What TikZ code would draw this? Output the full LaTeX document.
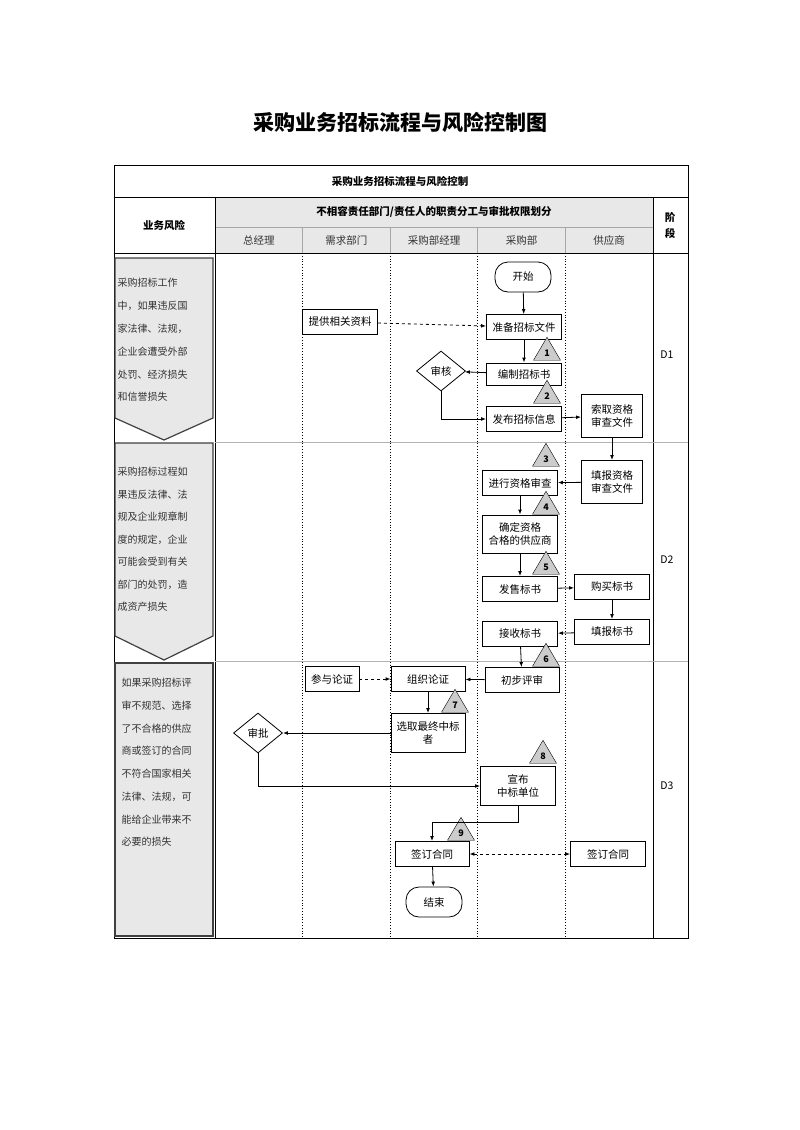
\documentclass[tikz,border=0pt]{standalone}
\usepackage{fontspec}
\setmainfont{Noto Sans CJK SC}
\usetikzlibrary{shapes.geometric,arrows.meta}
\begin{document}
\begin{tikzpicture}[x=1pt,y=-1pt,
  every node/.style={font=\fontsize{10.5}{12.5}\selectfont},
  box/.style={draw,thick,fill=white,align=center,inner sep=1pt,minimum height=25pt},
  term/.style={draw,thick,rounded corners=13pt,fill=white,minimum width=56pt,minimum height=30pt},
  dia/.style={draw,thick,diamond,aspect=1.2,fill=white,inner sep=1pt,minimum width=49pt,minimum height=40pt},
  tri/.style={draw,fill=gray!40,isosceles triangle,shape border rotate=90,isosceles triangle stretches,minimum width=27pt,minimum height=23pt,inner sep=0pt,font=\bfseries\fontsize{9}{10}\selectfont},
  arr/.style={thick,-{Latex[length=5pt]}},
  darr/.style={thick,dashed,-{Latex[length=5pt]}},
  risk/.style={draw=gray!50!black,line width=1.2pt,fill=gray!18},
  lane/.style={thick,dotted},
  hd/.style={font=\bfseries\fontsize{10.5}{12}\selectfont},
  rt/.style={anchor=west,text=gray!40!black,font=\fontsize{10}{12}\selectfont}]
\useasboundingbox (0,0) rectangle (800,1130);
\node[font=\bfseries\fontsize{21}{24}\selectfont] (title) at (400,122) {采购业务招标流程与风险控制图};
% table frame
\fill[gray!18] (215,197) rectangle (653,253);
\draw[thick] (114,165) rectangle (688,938);
\draw[thick] (114,197) -- (688,197);
\draw[gray!70,thick] (215,227) -- (653,227);
\draw[thick] (114,253) -- (688,253);
\draw[thick] (215,197) -- (215,938);
\draw[thick] (653,197) -- (653,938);
\foreach \x in {302,390,477,565} {\draw[gray!70] (\x,227) -- (\x,253); \draw[lane] (\x,253) -- (\x,938);}
\draw[gray!60] (215,442) -- (688,442);
\draw[gray!60] (215,661) -- (688,661);
\node[hd] (th) at (400,181) {采购业务招标流程与风险控制};
\node[hd] (hr) at (164,225) {业务风险};
\node[hd] (hm) at (434,212) {不相容责任部门/责任人的职责分工与审批权限划分};
\node[hd,align=center] (hs) at (670,225) {阶\\[4pt]段};
\foreach \t [count=\i] in {总经理,需求部门,采购部经理,采购部,供应商}
  \node[text=gray!40!black] (c\i) at ({215+87.6*(\i-0.5)},240) {\t};
\node (d1) at (667,355) {D1};
\node (d2) at (667,560) {D2};
\node (d3) at (667,786) {D3};
% risk shapes
\draw[risk] (115,258) -- (213,258) -- (213,418) -- (164,440) -- (115,418) -- cycle;
\draw[risk] (115,443) -- (213,443) -- (213,636) -- (164,660) -- (115,636) -- cycle;
\draw[risk] (115,663) rectangle (213,936);
\foreach \t [count=\i] in {采购招标工作,中，如果违反国,家法律、法规，,企业会遭受外部,处罚、经济损失,和信誉损失}
  \node[rt] at (114,{283+22.8*(\i-1)}) {\t};
\foreach \t [count=\i] in {采购招标过程如,果违反法律、法,规及企业规章制,度的规定，企业,可能会受到有关,部门的处罚，造,成资产损失}
  \node[rt] at (114,{472+22.5*(\i-1)}) {\t};
\foreach \t [count=\i] in {如果采购招标评,审不规范、选择,了不合格的供应,商或签订的合同,不符合国家相关,法律、法规，可,能给企业带来不,必要的损失}
  \node[rt] at (118,{683+22.7*(\i-1)}) {\t};
% D1
\node[term] (start) at (523,277) {开始};
\node[box,minimum width=75pt] (tg) at (340,322) {提供相关资料};
\node[box,minimum width=75pt] (zb) at (524,327) {准备招标文件};
\node[tri] (t1) at (547,353) {1};
\node[box,minimum width=75pt,minimum height=22pt] (bz) at (524,374) {编制招标书};
\node[dia] (sh) at (441,371) {审核};
\node[tri] (t2) at (547,396) {2};
\node[box,minimum width=75pt] (fb) at (524,419) {发布招标信息};
\node[box,minimum width=61pt,minimum height=43pt] (sq) at (612,416) {索取资格\\审查文件};
% D2
\node[tri] (t3) at (546,459) {3};
\node[box,minimum width=75pt] (jx) at (520,483) {进行资格审查};
\node[box,minimum width=61pt,minimum height=43pt] (tb) at (612,482) {填报资格\\审查文件};
\node[tri] (t4) at (546,507) {4};
\node[box,minimum width=75pt,minimum height=38pt] (qd) at (520,534) {确定资格\\合格的供应商};
\node[tri] (t5) at (546,567) {5};
\node[box,minimum width=75pt] (fs) at (520,589) {发售标书};
\node[box,minimum width=75pt] (gm) at (612,587) {购买标书};
\node[box,minimum width=75pt] (tbs) at (612,632) {填报标书};
\node[box,minimum width=75pt] (js) at (520,634) {接收标书};
% D3
\node[tri] (t6) at (546,659) {6};
\node[box,minimum width=74pt] (cb) at (522,680) {初步评审};
\node[box,minimum width=74pt] (zz) at (428,679) {组织论证};
\node[box,minimum width=54pt] (cy) at (332,679) {参与论证};
\node[tri] (t7) at (455,705) {7};
\node[box,minimum width=74pt,minimum height=39pt] (xq) at (428,733) {选取最终中标\\者};
\node[dia] (sp) at (258,733) {审批};
\node[tri] (t8) at (543,756) {8};
\node[box,minimum width=75pt,minimum height=39pt] (xb) at (518,786) {宣布\\中标单位};
\node[tri] (t9) at (461,833) {9};
\node[box,minimum width=74pt] (qh) at (432,854) {签订合同};
\node[box,minimum width=75pt] (qh2) at (608,854) {签订合同};
\node[term] (end) at (434,902) {结束};
% connectors
\draw[arr] (start) -- (zb);
\draw[darr] (tg) -- (zb);
\draw[arr] (zb) -- (bz);
\draw[arr] (bz) -- (sh);
\draw[arr] (sh.south) |- (fb.west);
\draw[arr] (fb) -- (sq);
\draw[arr] (sq) -- (tb);
\draw[arr] (tb) -- (jx);
\draw[arr] (jx) -- (qd);
\draw[arr] (qd) -- (fs);
\draw[arr] (fs) -- (gm);
\draw[arr] (gm) -- (tbs);
\draw[arr] (tbs) -- (js);
\draw[arr] (js) -- (cb);
\draw[arr] (cb) -- (zz);
\draw[darr] (cy) -- (zz);
\draw[arr] (zz) -- (xq);
\draw[arr] (xq) -- (sp);
\draw[arr] (sp.south) |- (xb.west);
\draw[arr] (xb.south) -- ++(0,16) -| (qh.north);
\draw[thick,dashed,{Latex[length=5pt]}-{Latex[length=5pt]}] (qh) -- (qh2);
\draw[arr] (qh) -- (end);
\end{tikzpicture}
\end{document}
